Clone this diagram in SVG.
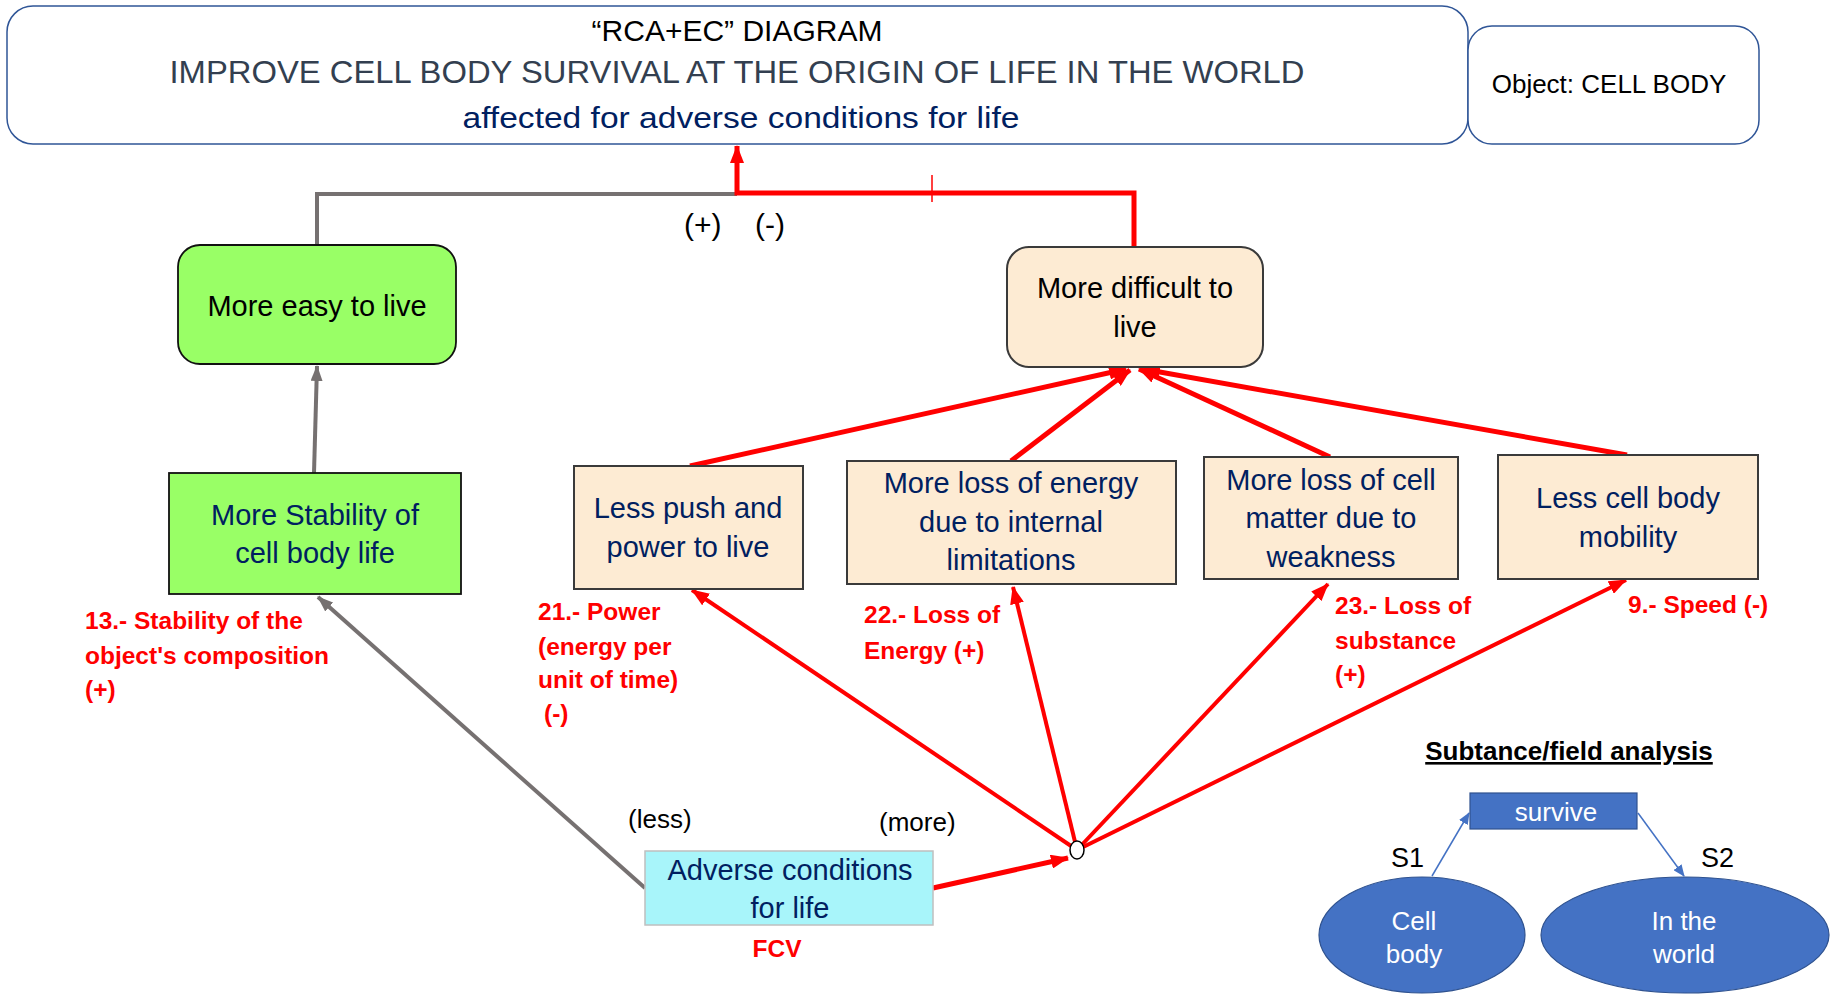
<svg xmlns="http://www.w3.org/2000/svg" width="1830" height="994" viewBox="0 0 1830 994">
<style>
text{font-family:"Liberation Sans",Arial,sans-serif}
.nt{font-size:29px;fill:#002060;text-anchor:middle}
.bt{font-size:29px;fill:#000;text-anchor:middle}
.lb{font-size:24.5px;fill:#FF0000;font-weight:bold}
.blk{font-size:26px;fill:#000}
.pm{font-size:30px;fill:#000}
.peach{fill:#FDEBD3;stroke:#3A3A3A;stroke-width:2}
.green{fill:#99FF66;stroke:#111;stroke-width:1.8}
.red{stroke:#FF0000;fill:none}
.gray{stroke:#767171;fill:none;stroke-width:4}
.wt{font-size:26px;fill:#fff;text-anchor:middle}
</style>
<defs>
<marker id="ar" markerUnits="userSpaceOnUse" markerWidth="18" markerHeight="14" viewBox="0 0 18 14" refX="17" refY="7" orient="auto"><path d="M0,0 L18,7 L0,14 z" fill="#FF0000"/></marker>
<marker id="ag" markerUnits="userSpaceOnUse" markerWidth="16" markerHeight="12" viewBox="0 0 16 12" refX="15" refY="6" orient="auto"><path d="M0,0 L16,6 L0,12 z" fill="#767171"/></marker>
<marker id="ab" markerUnits="userSpaceOnUse" markerWidth="12" markerHeight="10" viewBox="0 0 12 10" refX="11" refY="5" orient="auto"><path d="M0,0 L12,5 L0,10 z" fill="#4472C4"/></marker>
</defs>
<rect width="1830" height="994" fill="#fff"/>

<g id="title">
<rect x="7" y="6" width="1461" height="138" rx="26" fill="#fff" stroke="#2F5597" stroke-width="1.5"/>
<text x="737" y="41" font-size="30" fill="#000" text-anchor="middle">“RCA+EC” DIAGRAM</text>
<text x="737" y="83" font-size="31" fill="#333F50" text-anchor="middle" textLength="1135" lengthAdjust="spacingAndGlyphs">IMPROVE CELL BODY SURVIVAL AT THE ORIGIN OF LIFE IN THE WORLD</text>
<text x="741" y="128" font-size="30" fill="#002060" text-anchor="middle" textLength="557" lengthAdjust="spacingAndGlyphs">affected for adverse conditions for life</text>
</g>
<g id="object">
<rect x="1468" y="26" width="291" height="118" rx="24" fill="#fff" stroke="#2F5597" stroke-width="1.5"/>
<text x="1609" y="93" font-size="26" fill="#000" text-anchor="middle">Object: CELL BODY</text>
</g>

<g id="connectors">
<path class="gray" d="M317,245 V194 H737"/>
<path class="red" stroke-width="5" d="M1134,247 V193 H737 V146" marker-end="url(#ar)"/>
<line x1="932" y1="175" x2="932" y2="202" stroke="#FF0000" stroke-width="1.5"/>
<line class="gray" x1="314" y1="473" x2="317" y2="366" marker-end="url(#ag)"/>
<line class="gray" x1="645" y1="888" x2="318" y2="597" marker-end="url(#ag)"/>
<line class="red" stroke-width="5" x1="690" y1="466" x2="1126" y2="369" marker-end="url(#ar)"/>
<line class="red" stroke-width="5" x1="1011" y1="461" x2="1130" y2="370" marker-end="url(#ar)"/>
<line class="red" stroke-width="5" x1="1330" y1="457" x2="1139" y2="369" marker-end="url(#ar)"/>
<line class="red" stroke-width="5" x1="1627" y1="455" x2="1143" y2="369" marker-end="url(#ar)"/>
<line class="red" stroke-width="5" x1="933" y1="888" x2="1068" y2="858" marker-end="url(#ar)"/>
<line class="red" stroke-width="4" x1="1077" y1="850" x2="692" y2="590" marker-end="url(#ar)"/>
<line class="red" stroke-width="4" x1="1077" y1="850" x2="1013" y2="587" marker-end="url(#ar)"/>
<line class="red" stroke-width="4" x1="1077" y1="850" x2="1328" y2="584" marker-end="url(#ar)"/>
<line class="red" stroke-width="4" x1="1077" y1="850" x2="1626" y2="580" marker-end="url(#ar)"/>
<line x1="1432" y1="876" x2="1469" y2="813" stroke="#4472C4" stroke-width="1.5" marker-end="url(#ab)"/>
<line x1="1638" y1="813" x2="1684" y2="876" stroke="#4472C4" stroke-width="1.5" marker-end="url(#ab)"/>
</g>

<text class="pm" x="684" y="235">(+)</text>
<text class="pm" x="755" y="235">(-)</text>

<g id="easy">
<rect class="green" x="178" y="245" width="278" height="119" rx="22"/>
<text class="bt" x="317" y="316">More easy to live</text>
</g>
<g id="stability">
<rect class="green" x="169" y="473" width="292" height="121"/>
<text class="nt" x="315" y="525">More Stability of</text>
<text class="nt" x="315" y="563">cell body life</text>
</g>
<g id="difficult">
<rect class="peach" x="1007" y="247" width="256" height="120" rx="22" stroke="#111"/>
<text class="bt" x="1135" y="298">More difficult to</text>
<text class="bt" x="1135" y="337">live</text>
</g>
<g id="push">
<rect class="peach" x="574" y="466" width="229" height="123"/>
<text class="nt" x="688" y="518">Less push and</text>
<text class="nt" x="688" y="557">power to live</text>
</g>
<g id="energy">
<rect class="peach" x="847" y="461" width="329" height="123"/>
<text class="nt" x="1011" y="493">More loss of energy</text>
<text class="nt" x="1011" y="532">due to internal</text>
<text class="nt" x="1011" y="570">limitations</text>
</g>
<g id="matter">
<rect class="peach" x="1204" y="457" width="254" height="122"/>
<text class="nt" x="1331" y="490">More loss of cell</text>
<text class="nt" x="1331" y="528">matter due to</text>
<text class="nt" x="1331" y="567">weakness</text>
</g>
<g id="mobility">
<rect class="peach" x="1498" y="455" width="260" height="124"/>
<text class="nt" x="1628" y="508">Less cell body</text>
<text class="nt" x="1628" y="547">mobility</text>
</g>
<g id="adverse">
<rect x="645" y="851" width="288" height="74" fill="#A8F5FA" stroke="#BFBFBF" stroke-width="1.5"/>
<text class="nt" x="790" y="880">Adverse conditions</text>
<text class="nt" x="790" y="918">for life</text>
</g>
<g id="junction">
<ellipse cx="1077" cy="850" rx="7" ry="9" fill="#fff" stroke="#000" stroke-width="1.5"/>
</g>

<g id="labels">
<text class="lb" x="85" y="629">13.- Stability of the</text>
<text class="lb" x="85" y="664">object's composition</text>
<text class="lb" x="85" y="698">(+)</text>
<text class="lb" x="538" y="620">21.- Power</text>
<text class="lb" x="538" y="655">(energy per</text>
<text class="lb" x="538" y="688">unit of time)</text>
<text class="lb" x="544" y="722">(-)</text>
<text class="lb" x="864" y="623">22.- Loss of</text>
<text class="lb" x="864" y="659">Energy (+)</text>
<text class="lb" x="1335" y="614">23.- Loss of</text>
<text class="lb" x="1335" y="649">substance</text>
<text class="lb" x="1335" y="683">(+)</text>
<text class="lb" x="1628" y="613">9.- Speed (-)</text>
<text class="lb" x="777" y="957" text-anchor="middle">FCV</text>
<text class="blk" x="628" y="828">(less)</text>
<text class="blk" x="879" y="831">(more)</text>
</g>

<g id="sufield">
<text x="1569" y="760" font-size="26" font-weight="bold" fill="#000" text-anchor="middle" text-decoration="underline">Subtance/field analysis</text>
<g id="survive">
<rect x="1470" y="793" width="167" height="36" fill="#4472C4" stroke="#2F528F" stroke-width="1.2"/>
<text class="wt" x="1556" y="821">survive</text>
</g>
<text x="1391" y="867" font-size="27" fill="#000">S1</text>
<text x="1701" y="867" font-size="27" fill="#000">S2</text>
<g id="cellbody">
<ellipse cx="1422" cy="935" rx="103" ry="58" fill="#4472C4" stroke="#2F528F" stroke-width="1.2"/>
<text class="wt" x="1414" y="930">Cell</text>
<text class="wt" x="1414" y="963">body</text>
</g>
<g id="world">
<ellipse cx="1685" cy="935" rx="144" ry="58" fill="#4472C4" stroke="#2F528F" stroke-width="1.2"/>
<text class="wt" x="1684" y="930">In the</text>
<text class="wt" x="1684" y="963">world</text>
</g>
</g>
</svg>
